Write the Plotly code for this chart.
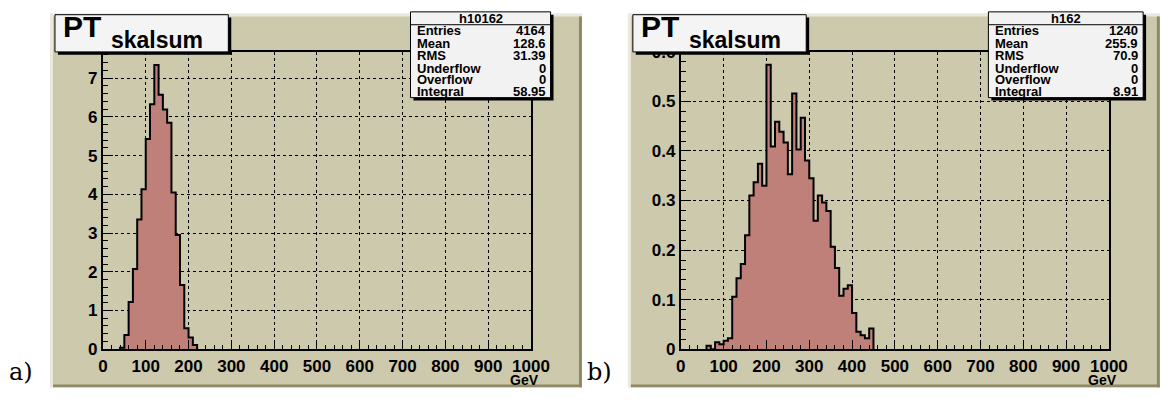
import plotly.graph_objects as go

W, H = 1170, 404

# ---------------- data ----------------
bin_width = 10.0
a_start = 40.0
a_values = [0.04, 0.37, 1.22, 2.07, 3.35, 4.13, 5.43, 6.33, 7.34, 6.57,
            6.19, 5.85, 4.05, 2.95, 1.66, 0.54, 0.30, 0.11]
b_start = 60.0
b_values = [0.007, 0.0, 0.014, 0.010, 0.017, 0.022, 0.106, 0.143, 0.172, 0.230,
            0.310, 0.337, 0.374, 0.330, 0.574, 0.409, 0.459, 0.439, 0.417, 0.353,
            0.516, 0.403, 0.467, 0.381, 0.345, 0.259, 0.310, 0.296, 0.279, 0.207,
            0.164, 0.108, 0.122, 0.129, 0.073, 0.035, 0.028, 0.022, 0.042]

a_name = "h10162"
b_name = "h162"
stat_labels = ["Entries", "Mean", "RMS", "Underflow", "Overflow", "Integral"]
a_stats = ["4164", "128.6", "31.39", "0", "0", "58.95"]
b_stats = ["1240", "255.9", "70.9", "0", "0", "8.91"]

a_ymax = 7.68
b_ymax = 0.6
x_range = [0, 1000]
x_ticks = [0, 100, 200, 300, 400, 500, 600, 700, 800, 900, 1000]
x_ticklabels = ["0", "100", "200", "300", "400", "500", "600", "700", "800", "900", "1000"]
a_yticks = [0, 1, 2, 3, 4, 5, 6, 7]
a_yticklabels = ["0", "1", "2", "3", "4", "5", "6", "7"]
b_yticks = [0, 0.1, 0.2, 0.3, 0.4, 0.5, 0.6]
b_yticklabels = ["0", "0.1", "0.2", "0.3", "0.4", "0.5", "0.6"]
x_title = "GeV"
title_main = "PT"
title_sub = "skalsum"
panel_tags = ["a)", "b)"]

# ---------------- style ----------------
BEIGE = "#cdc9ad"
FILL = "#c0807a"
FONT = "Liberation Sans"


def px(x):
    return x / W


def py(y):
    return 1 - y / H


def bold(lst):
    return ["<b>%s</b>" % s for s in lst]


def steps(start, vals):
    xs = [start]
    ys = [0.0]
    for i, v in enumerate(vals):
        xs.append(start + i * bin_width)
        ys.append(v)
    end = start + len(vals) * bin_width
    xs += [end, end]
    ys += [vals[-1], 0.0]
    return xs, ys


fig = go.Figure()

for k, (start, vals) in enumerate([(a_start, a_values), (b_start, b_values)]):
    xs, ys = steps(start, vals)
    fig.add_trace(go.Scatter(
        x=xs, y=ys, mode="lines", line=dict(shape="hv", color="black", width=2),
        fill="tozeroy", fillcolor=FILL, xaxis="x" if k == 0 else "x2",
        yaxis="y" if k == 0 else "y2", hoverinfo="skip", showlegend=False))

shapes = []
annotations = []

offsets = [0, 590]
for k, off in enumerate(offsets):
    L, R, T, B = 46 + off, 589 + off, 5, 397
    # panel with raised border
    shapes.append(dict(type="rect", xref="paper", yref="paper", layer="below",
                       x0=px(L), x1=px(R), y0=py(B), y1=py(T),
                       fillcolor=BEIGE, line=dict(width=0)))
    shapes.append(dict(type="rect", xref="paper", yref="paper", layer="below",
                       x0=px(L), x1=px(L + 3), y0=py(B), y1=py(T),
                       fillcolor="#ebe9de", line=dict(width=0)))
    shapes.append(dict(type="rect", xref="paper", yref="paper", layer="below",
                       x0=px(L), x1=px(R), y0=py(T + 3), y1=py(T),
                       fillcolor="#ebe9de", line=dict(width=0)))
    shapes.append(dict(type="rect", xref="paper", yref="paper", layer="below",
                       x0=px(L + 3), x1=px(R), y0=py(B), y1=py(B - 3),
                       fillcolor="#8e8962", line=dict(width=0)))
    shapes.append(dict(type="rect", xref="paper", yref="paper", layer="below",
                       x0=px(R - 3), x1=px(R), y0=py(B), y1=py(T + 3),
                       fillcolor="#8e8962", line=dict(width=0)))

    # title box
    tL, tR, tT, tB = 51 + off, 228 + off, 6, 45
    shapes.append(dict(type="rect", xref="paper", yref="paper", layer="above",
                       x0=px(tL + 3), x1=px(tR + 3), y0=py(tB + 3), y1=py(tT + 3),
                       fillcolor="black", line=dict(width=0)))
    shapes.append(dict(type="rect", xref="paper", yref="paper", layer="above",
                       x0=px(tL), x1=px(tR), y0=py(tB), y1=py(tT),
                       fillcolor="#f4f4f4", line=dict(color="black", width=1)))
    annotations.append(dict(x=px(tL + 6), y=py(18), xref="paper", yref="paper",
                            text="<b>%s</b>" % title_main, showarrow=False,
                            xanchor="left", yanchor="middle",
                            font=dict(family=FONT, size=30, color="black")))
    annotations.append(dict(x=px(tL + 55), y=py(33), xref="paper", yref="paper",
                            text="<b>%s</b>" % title_sub, showarrow=False,
                            xanchor="left", yanchor="middle",
                            font=dict(family=FONT, size=23, color="black")))

    # stats box
    name = a_name if k == 0 else b_name
    vals = a_stats if k == 0 else b_stats
    sL = 414 + off
    sR = 557 if k == 0 else 1162
    sT, sB = 3, 93
    shapes.append(dict(type="rect", xref="paper", yref="paper", layer="above",
                       x0=px(sL + 3), x1=px(sR + 3), y0=py(sB + 3), y1=py(sT + 3),
                       fillcolor="black", line=dict(width=0)))
    shapes.append(dict(type="rect", xref="paper", yref="paper", layer="above",
                       x0=px(sL), x1=px(sR), y0=py(sB), y1=py(sT),
                       fillcolor="#f2f2f2", line=dict(color="black", width=1)))
    shapes.append(dict(type="line", xref="paper", yref="paper", layer="above",
                       x0=px(sL), x1=px(sR), y0=py(16.5), y1=py(16.5),
                       line=dict(color="black", width=1)))
    annotations.append(dict(x=px((sL + sR) / 2), y=py(9.5), xref="paper", yref="paper",
                            text="<b>%s</b>" % name, showarrow=False,
                            xanchor="center", yanchor="middle",
                            font=dict(family=FONT, size=13, color="black")))
    rows_y = [23, 36, 48.5, 62, 74.5, 87]
    for lab, v, yy in zip(stat_labels, vals, rows_y):
        annotations.append(dict(x=px(sL + 5), y=py(yy), xref="paper", yref="paper",
                                text="<b>%s</b>" % lab, showarrow=False,
                                xanchor="left", yanchor="middle",
                                font=dict(family=FONT, size=13, color="black")))
        annotations.append(dict(x=px(sR - 3), y=py(yy), xref="paper", yref="paper",
                                text="<b>%s</b>" % v, showarrow=False,
                                xanchor="right", yanchor="middle",
                                font=dict(family=FONT, size=13, color="black")))

    # x axis title
    annotations.append(dict(x=px(547 + off), y=py(389), xref="paper", yref="paper",
                            text="<b>%s</b>" % x_title, showarrow=False,
                            xanchor="right", yanchor="middle",
                            font=dict(family=FONT, size=14, color="black")))
    # panel tag
    annotations.append(dict(x=px(2 + off), y=py(381), xref="paper", yref="paper",
                            text=panel_tags[k], showarrow=False, xanchor="left",
                            yanchor="middle",
                            font=dict(family="DejaVu Serif", size=24, color="black")))

tickfont = dict(family=FONT, size=17, color="black")


def xaxis(off, anchor):
    return dict(domain=[px(100 + off), px(537 + off)], range=x_range,
                tickmode="array", tickvals=x_ticks, ticktext=bold(x_ticklabels),
                anchor=anchor,
                showline=True, linecolor="black", linewidth=2, mirror=True,
                ticks="inside", ticklen=9, tickwidth=1, tickcolor="black",
                showgrid=True, gridcolor="black", griddash="dot", gridwidth=1,
                zeroline=False, tickfont=tickfont,
                minor=dict(dtick=20, tick0=0, ticks="inside", ticklen=4.5,
                           tickcolor="black", tickwidth=1, showgrid=False))


def yaxis(ymax, tv, tt, mdt, anchor):
    return dict(domain=[py(357), py(45)], range=[0, ymax],
                tickmode="array", tickvals=tv, ticktext=bold(tt),
                anchor=anchor,
                showline=True, linecolor="black", linewidth=2, mirror=True,
                ticks="inside", ticklen=10, tickwidth=1, tickcolor="black",
                showgrid=True, gridcolor="black", griddash="dot", gridwidth=1,
                zeroline=False, tickfont=tickfont,
                minor=dict(dtick=mdt, tick0=0, ticks="inside", ticklen=5,
                           tickcolor="black", tickwidth=1, showgrid=False))


fig.update_layout(
    width=W, height=H, margin=dict(l=0, r=0, t=0, b=0),
    paper_bgcolor="white", plot_bgcolor=BEIGE, showlegend=False,
    xaxis=xaxis(0, "y"), xaxis2=xaxis(590, "y2"),
    yaxis=yaxis(a_ymax, a_yticks, a_yticklabels, 0.2, "x"),
    yaxis2=yaxis(b_ymax, b_yticks, b_yticklabels, 0.02, "x2"),
    shapes=shapes, annotations=annotations,
)

fig.write_html("out.html")
